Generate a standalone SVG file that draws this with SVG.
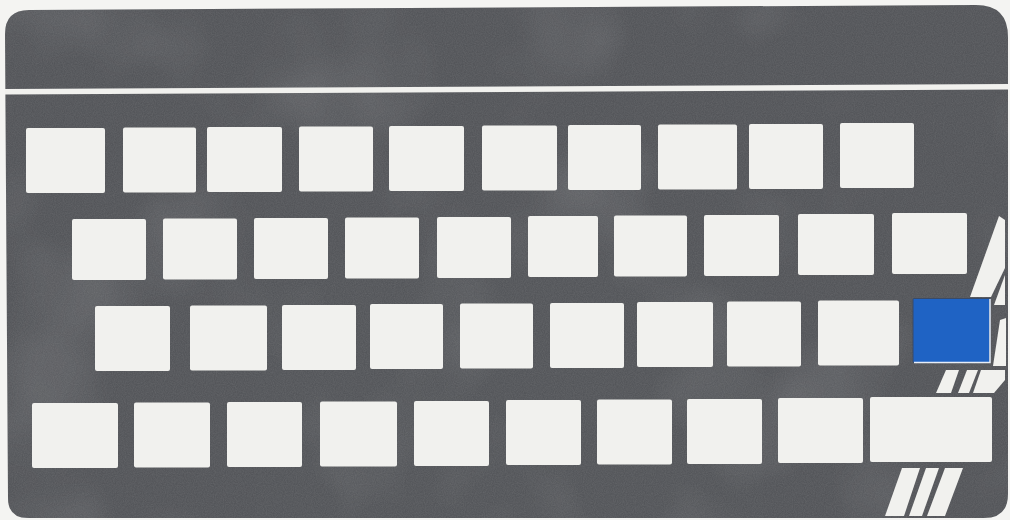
<svg xmlns="http://www.w3.org/2000/svg" width="1010" height="520" viewBox="0 0 1010 520">
<defs>
<style>
.key{fill:#f1f1ee}
.stripe{fill:#f1f1ee}
.blue{fill:#1f63c4;stroke:#3a4a66;stroke-width:1}
</style>
<filter id="grain" x="0" y="0" width="100%" height="100%">
<feTurbulence type="fractalNoise" baseFrequency="0.9" numOctaves="2" seed="3" result="n"/>
<feColorMatrix type="matrix" values="0 0 0 0 0.5  0 0 0 0 0.5  0 0 0 0 0.5  0.9 0 0 0 -0.2"/>
</filter>
<filter id="mottle" x="0" y="0" width="100%" height="100%">
<feTurbulence type="fractalNoise" baseFrequency="0.006" numOctaves="3" seed="7"/>
<feColorMatrix type="matrix" values="0 0 0 0 1  0 0 0 0 1  0 0 0 0 1  1.2 0 0 0 -0.6"/>
</filter>
<clipPath id="bodyClip">
<path d="M5,34 Q5,10 29,10 L976,5 Q1008,5 1008,37 L1008,494 Q1008,518 984,518 L28,518 Q8,518 8,498 Z"/>
</clipPath>
</defs>
<rect width="1010" height="520" fill="#f4f4f2"/>
<g id="body">
<path d="M5,34 Q5,10 29,10 L976,5 Q1008,5 1008,37 L1008,494 Q1008,518 984,518 L28,518 Q8,518 8,498 Z" fill="#54565a"/>
<g clip-path="url(#bodyClip)">
<rect x="0" y="0" width="1010" height="520" filter="url(#mottle)" opacity="0.25"/>
<rect x="0" y="0" width="1010" height="520" filter="url(#grain)" opacity="0.22"/>
</g>
<polygon points="5,89 1008,84 1008,89.5 5,94.5" fill="#f1f1ee"/>
</g>
<g id="stripes">
<polygon class="stripe" points="999,216 1005,220 1005,268 991,297 970,297"/>
<polygon class="stripe" points="1005,275 1005,305 994,305"/>
<polygon class="stripe" points="1000,320 1006,318 1006,366 993,366"/>
<polygon class="stripe" points="946,370 959,370 951,393 936,393"/>
<polygon class="stripe" points="967,370 978,370 969,393 958,393"/>
<polygon class="stripe" points="981,370 1005,370 1005,380 994,393 973,393"/>
<polygon class="stripe" points="902,468 920,468 904,516 885,516"/>
<polygon class="stripe" points="926,468 939,468 922,516 909,516"/>
<polygon class="stripe" points="945,468 963,468 945,516 927,516"/>
</g>
<g id="row1">
<rect id="k1-1" class="key" x="26" y="128" width="79" height="65" rx="2"/>
<rect id="k1-2" class="key" x="123" y="127.5" width="73" height="65" rx="2"/>
<rect id="k1-3" class="key" x="207" y="127" width="75" height="65" rx="2"/>
<rect id="k1-4" class="key" x="299" y="126.5" width="74" height="65" rx="2"/>
<rect id="k1-5" class="key" x="389" y="126" width="75" height="65" rx="2"/>
<rect id="k1-6" class="key" x="482" y="125.5" width="75" height="65" rx="2"/>
<rect id="k1-7" class="key" x="568" y="125" width="73" height="65" rx="2"/>
<rect id="k1-8" class="key" x="658" y="124.5" width="79" height="65" rx="2"/>
<rect id="k1-9" class="key" x="749" y="124" width="74" height="65" rx="2"/>
<rect id="k1-10" class="key" x="840" y="123" width="74" height="65" rx="2"/>
</g>
<g id="row2">
<rect id="k2-1" class="key" x="72" y="219" width="74" height="61" rx="2"/>
<rect id="k2-2" class="key" x="163" y="218.5" width="74" height="61" rx="2"/>
<rect id="k2-3" class="key" x="254" y="218" width="74" height="61" rx="2"/>
<rect id="k2-4" class="key" x="345" y="217.5" width="74" height="61" rx="2"/>
<rect id="k2-5" class="key" x="437" y="217" width="74" height="61" rx="2"/>
<rect id="k2-6" class="key" x="528" y="216" width="70" height="61" rx="2"/>
<rect id="k2-7" class="key" x="614" y="215.5" width="73" height="61" rx="2"/>
<rect id="k2-8" class="key" x="704" y="215" width="75" height="61" rx="2"/>
<rect id="k2-9" class="key" x="798" y="214" width="76" height="61" rx="2"/>
<rect id="k2-10" class="key" x="892" y="213" width="75" height="61" rx="2"/>
</g>
<g id="row3">
<rect id="k3-1" class="key" x="95" y="306" width="75" height="65" rx="2"/>
<rect id="k3-2" class="key" x="190" y="305.5" width="77" height="65" rx="2"/>
<rect id="k3-3" class="key" x="282" y="305" width="74" height="65" rx="2"/>
<rect id="k3-4" class="key" x="370" y="304" width="73" height="65" rx="2"/>
<rect id="k3-5" class="key" x="460" y="303.5" width="73" height="65" rx="2"/>
<rect id="k3-6" class="key" x="550" y="303" width="74" height="65" rx="2"/>
<rect id="k3-7" class="key" x="637" y="302" width="76" height="65" rx="2"/>
<rect id="k3-8" class="key" x="727" y="301.5" width="74" height="65" rx="2"/>
<rect id="k3-9" class="key" x="818" y="300.5" width="81" height="65" rx="2"/>
<rect id="k3-10" class="blue" x="913" y="298.5" width="77" height="64" rx="1"/>
<polyline points="914,362.5 990,362.5 990,299" fill="none" stroke="#e8eef8" stroke-width="1.5"/>
</g>
<g id="row4">
<rect id="k4-1" class="key" x="32" y="403" width="86" height="65" rx="2"/>
<rect id="k4-2" class="key" x="134" y="402.5" width="76" height="65" rx="2"/>
<rect id="k4-3" class="key" x="227" y="402" width="75" height="65" rx="2"/>
<rect id="k4-4" class="key" x="320" y="401.5" width="77" height="65" rx="2"/>
<rect id="k4-5" class="key" x="414" y="401" width="75" height="65" rx="2"/>
<rect id="k4-6" class="key" x="506" y="400" width="75" height="65" rx="2"/>
<rect id="k4-7" class="key" x="597" y="399.5" width="75" height="65" rx="2"/>
<rect id="k4-8" class="key" x="687" y="399" width="75" height="65" rx="2"/>
<rect id="k4-9" class="key" x="778" y="398" width="85" height="65" rx="2"/>
<rect id="k4-10" class="key" x="870" y="397" width="122" height="65" rx="2"/>
</g>
</svg>
